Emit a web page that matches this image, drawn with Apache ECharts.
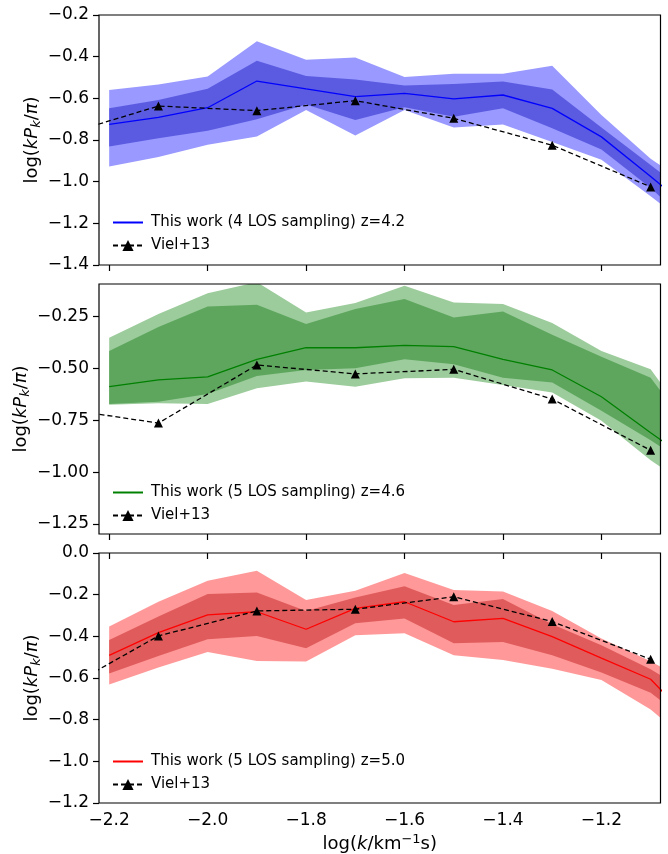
<!DOCTYPE html>
<html>
<head>
<meta charset="utf-8">
<script src="https://cdn.jsdelivr.net/npm/echarts@6/dist/echarts.min.js"></script>
<style>
html,body{margin:0;padding:0;background:#fff;}
#chart{width:668px;height:854px;}
</style>
</head>
<body>
<div id="chart"></div>
<script>
// x positions (log k)
const xs = [-2.2,-2.1,-2.0,-1.9,-1.8,-1.7,-1.6,-1.5,-1.4,-1.3,-1.2,-1.1,-1.0];
const xsViel = [-2.3,-2.1,-1.9,-1.7,-1.5,-1.3,-1.1];
const xTicks = [-2.2,-2.0,-1.8,-1.6,-1.4,-1.2];

// Panel 1: z=4.2 (blue)
const line1    = [-0.725,-0.691,-0.645,-0.517,-0.555,-0.592,-0.576,-0.603,-0.584,-0.648,-0.785,-0.975,-1.17];
const outerUp1 = [-0.560,-0.533,-0.495,-0.326,-0.415,-0.404,-0.498,-0.482,-0.482,-0.444,-0.680,-0.890,-1.05];
const innerUp1 = [-0.648,-0.608,-0.554,-0.420,-0.493,-0.509,-0.538,-0.531,-0.519,-0.557,-0.740,-0.920,-1.10];
const innerLo1 = [-0.831,-0.791,-0.755,-0.700,-0.630,-0.704,-0.643,-0.688,-0.648,-0.743,-0.845,-1.030,-1.25];
const outerLo1 = [-0.927,-0.882,-0.823,-0.783,-0.656,-0.778,-0.656,-0.740,-0.725,-0.810,-0.895,-1.070,-1.25];
const viel1    = [-0.780,-0.637,-0.659,-0.611,-0.696,-0.825,-1.025];
const yTicks1  = [-1.4,-1.2,-1.0,-0.8,-0.6,-0.4,-0.2];

// Panel 2: z=4.6 (green)
const line2    = [-0.588,-0.556,-0.541,-0.457,-0.400,-0.401,-0.390,-0.396,-0.457,-0.508,-0.637,-0.810,-0.98];
const outerUp2 = [-0.353,-0.239,-0.139,-0.085,-0.231,-0.186,-0.103,-0.183,-0.190,-0.282,-0.417,-0.505,-0.83];
const innerUp2 = [-0.417,-0.301,-0.202,-0.194,-0.287,-0.215,-0.166,-0.255,-0.226,-0.338,-0.444,-0.545,-0.86];
const innerLo2 = [-0.672,-0.661,-0.624,-0.537,-0.508,-0.500,-0.457,-0.481,-0.545,-0.568,-0.704,-0.847,-1.00];
const outerLo2 = [-0.675,-0.668,-0.672,-0.596,-0.564,-0.589,-0.548,-0.545,-0.580,-0.616,-0.752,-0.943,-1.10];
const viel2    = [-0.693,-0.764,-0.484,-0.527,-0.505,-0.648,-0.895];
const yTicks2  = [-1.25,-1.00,-0.75,-0.50,-0.25];

// Panel 3: z=5.0 (red)
const line3    = [-0.491,-0.382,-0.297,-0.282,-0.366,-0.266,-0.234,-0.330,-0.314,-0.401,-0.505,-0.606,-0.85];
const outerUp3 = [-0.353,-0.234,-0.133,-0.085,-0.226,-0.181,-0.096,-0.178,-0.185,-0.278,-0.410,-0.520,-0.65];
const innerUp3 = [-0.417,-0.305,-0.197,-0.189,-0.278,-0.213,-0.160,-0.250,-0.221,-0.342,-0.443,-0.558,-0.70];
const innerLo3 = [-0.578,-0.494,-0.414,-0.398,-0.457,-0.337,-0.314,-0.433,-0.427,-0.491,-0.574,-0.671,-0.85];
const outerLo3 = [-0.631,-0.550,-0.475,-0.518,-0.521,-0.395,-0.385,-0.491,-0.513,-0.555,-0.610,-0.751,-0.95];
const viel3    = [-0.664,-0.398,-0.278,-0.270,-0.210,-0.329,-0.510];
const yTicks3  = [-1.2,-1.0,-0.8,-0.6,-0.4,-0.2,0.0];

const names = ['This work (4 LOS sampling) z=4.2','This work (5 LOS sampling) z=4.6','This work (5 LOS sampling) z=5.0'];
const vielName = 'Viel+13';

const FONT = 'DejaVu Sans';
const minus = s => s.replace('-', '\u2212');

const panels = [
  {line: line1, oU: outerUp1, iU: innerUp1, iL: innerLo1, oL: outerLo1, viel: viel1, yTicks: yTicks1, ymin: -1.4, ymax: -0.2, dec: 1,
   c: '#0000ff', cOut: '#9999ff', cIn: '#5b5be1', top: 15, legTop: 215, nameGap: 56},
  {line: line2, oU: outerUp2, iU: innerUp2, iL: innerLo2, oL: outerLo2, viel: viel2, yTicks: yTicks2, ymin: -1.298, ymax: -0.094, dec: 2,
   c: '#008000', cOut: '#9ccc9c', cIn: '#5ea65e', top: 284, legTop: 485, nameGap: 67},
  {line: line3, oU: outerUp3, iU: innerUp3, iL: innerLo3, oL: outerLo3, viel: viel3, yTicks: yTicks3, ymin: -1.2, ymax: 0.0, dec: 1,
   c: '#ff0000', cOut: '#ff9999', cIn: '#e05c5c', top: 553, legTop: 754, nameGap: 56}
];

const grids = [], xAxes = [], yAxes = [], series = [], legends = [];

const yName = 'log{p|(}{i|k}{i|P}{sub|k}/{i|π}{p|)}';
const xName = 'log{p|(}{i|k}/km{sup|\u22121}s{p|)}';

const bandRender = (lo, hi, color) => (params, api) => {
  const pts = [];
  for (let i = 0; i < xs.length; i++) pts.push(api.coord([xs[i], hi[i]]));
  for (let i = xs.length - 1; i >= 0; i--) pts.push(api.coord([xs[i], lo[i]]));
  return {type: 'polygon', shape: {points: pts}, style: {fill: color, stroke: null}};
};

panels.forEach((p, idx) => {
  grids.push({left: 99, right: 7.5, top: p.top, height: 250, show: true, borderColor: '#000', borderWidth: 1.2,
              backgroundColor: 'transparent', z: 10});
  xAxes.push({
    type: 'value', gridIndex: idx, min: -2.2207, max: -1.08,
    axisLine: {show: false},
    axisTick: {show: true, inside: false, length: 6, lineStyle: {color: '#000', width: 1.2}, customValues: xTicks},
    axisLabel: {show: idx === 2, customValues: xTicks, margin: 9, color: '#000', fontSize: 17, fontFamily: FONT,
                formatter: v => minus(v.toFixed(1))},
    splitLine: {show: false},
    name: idx === 2 ? xName : '',
    nameLocation: 'middle', nameGap: 30, nameMoveOverlap: false,
    nameTextStyle: {color: '#000', fontSize: 18, fontFamily: FONT,
      rich: {i: {fontStyle: 'italic', fontSize: 18, fontFamily: FONT, color: '#000'},
             p: {fontSize: 18, fontFamily: FONT, color: '#000'},
             sup: {fontSize: 13, fontFamily: FONT, color: '#000', padding: [0, 0, 9, 0]}}}
  });
  yAxes.push({
    type: 'value', gridIndex: idx, min: p.ymin, max: p.ymax,
    axisLine: {show: false},
    axisTick: {show: true, inside: false, length: 6, lineStyle: {color: '#000', width: 1.2}, customValues: p.yTicks},
    axisLabel: {customValues: p.yTicks, margin: 10, color: '#000', fontSize: 17, fontFamily: FONT,
                formatter: v => minus(v.toFixed(p.dec))},
    splitLine: {show: false},
    name: yName, nameLocation: 'middle', nameRotate: 90, nameGap: p.nameGap, nameMoveOverlap: false,
    nameTextStyle: {color: '#000', fontSize: 18, fontFamily: FONT,
      rich: {i: {fontStyle: 'italic', fontSize: 18, fontFamily: FONT, color: '#000'},
             p: {fontSize: 18, fontFamily: FONT, color: '#000'},
             sub: {fontStyle: 'italic', fontSize: 13, fontFamily: FONT, color: '#000', padding: [9, 0, 0, 0]}}}
  });

  series.push({type: 'custom', xAxisIndex: idx, yAxisIndex: idx, clip: true, silent: true, z: 1,
    renderItem: bandRender(p.oL, p.oU, p.cOut), data: [[xs[0], p.oL[0]]]});
  series.push({type: 'custom', xAxisIndex: idx, yAxisIndex: idx, clip: true, silent: true, z: 2,
    renderItem: bandRender(p.iL, p.iU, p.cIn), data: [[xs[0], p.iL[0]]]});

  series.push({type: 'line', name: names[idx], xAxisIndex: idx, yAxisIndex: idx, symbol: 'none', z: 4,
    lineStyle: {color: p.c, width: 1.3}, itemStyle: {color: p.c},
    data: xs.map((x, i) => [x, p.line[i]])});
  series.push({type: 'line', name: vielName, xAxisIndex: idx, yAxisIndex: idx, symbol: 'triangle', symbolSize: 9, z: 5,
    lineStyle: {color: '#000', width: 1.3, type: [5, 3]}, itemStyle: {color: '#000'},
    data: xsViel.map((x, i) => [x, p.viel[i]])});

  legends.push({
    data: [{name: names[idx], itemStyle: {opacity: 0}}, vielName], orient: 'vertical', left: 112, top: p.legTop,
    padding: 0, itemWidth: 30, itemHeight: 14, itemGap: 8, selectedMode: false,
    textStyle: {color: '#000', fontSize: 15, fontFamily: FONT, padding: [0, 0, 0, 3]}
  });
});

const chart = echarts.init(document.getElementById('chart'), null, {renderer: 'canvas'});
chart.setOption({
  animation: false,
  backgroundColor: '#fff',
  grid: grids, xAxis: xAxes, yAxis: yAxes, series: series, legend: legends
});
</script>
</body>
</html>
